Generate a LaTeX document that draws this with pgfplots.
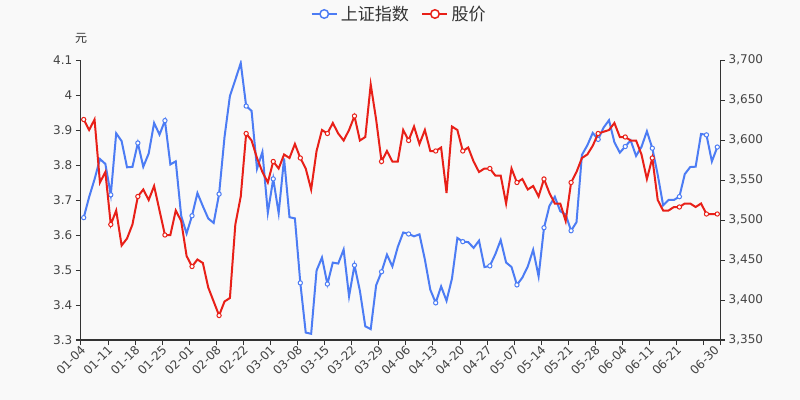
\documentclass[border=0pt]{standalone}
\usepackage{pgfplots}
\usepackage{pgfplotstable}
\pgfplotsset{compat=1.18}
\usepackage{fontspec}
\setmainfont{DejaVu Sans}
\newfontfamily\cjk{Noto Sans CJK SC}
\definecolor{bg}{HTML}{F9F9F9}
\definecolor{sse}{RGB}{76,124,244}
\definecolor{stk}{RGB}{232,32,24}
\definecolor{axc}{HTML}{333333}
\definecolor{txt}{HTML}{444444}

\pgfplotstableread{
i sse
0 3502.96
1 3528.68
2 3550.88
3 3576.20
4 3570.11
5 3531.50
6 3608.34
7 3598.65
8 3565.90
9 3566.38
10 3596.22
11 3566.52
12 3583.09
13 3621.26
14 3606.75
15 3624.24
16 3569.43
17 3573.34
18 3505.18
19 3483.07
20 3505.28
21 3533.68
22 3517.31
23 3501.86
24 3496.33
25 3532.44
26 3603.49
27 3655.09
28 3675.36
29 3696.17
30 3642.44
31 3636.36
32 3564.08
33 3585.05
34 3509.08
35 3551.40
36 3508.59
37 3576.90
38 3503.49
39 3501.99
40 3421.41
41 3359.29
42 3357.74
43 3436.83
44 3453.08
45 3419.95
46 3446.73
47 3445.55
48 3463.07
49 3404.66
50 3443.44
51 3411.51
52 3367.06
53 3363.59
54 3418.33
55 3435.30
56 3456.68
57 3441.91
58 3466.33
59 3484.39
60 3482.50
61 3479.63
62 3482.06
63 3450.68
64 3412.95
65 3396.47
66 3416.99
67 3398.99
68 3426.62
69 3477.55
70 3472.94
71 3472.40
72 3465.11
73 3474.17
74 3441.17
75 3442.61
76 3457.07
77 3474.90
78 3446.86
79 3441.28
80 3418.87
81 3427.99
82 3441.85
83 3462.75
84 3429.54
85 3490.38
86 3517.62
87 3529.01
88 3510.96
89 3506.94
90 3486.56
91 3497.28
92 3581.34
93 3593.36
94 3608.85
95 3600.78
96 3615.48
97 3624.71
98 3597.14
99 3584.22
100 3591.84
101 3599.54
102 3580.11
103 3591.40
104 3610.86
105 3589.75
106 3556.56
107 3518.33
108 3525.10
109 3525.10
110 3529.18
111 3557.41
112 3566.22
113 3566.65
114 3607.56
115 3606.37
116 3573.18
117 3591.20
}\ssedata

\pgfplotstableread{
i price
0 3.93
1 3.90
2 3.93
3 3.75
4 3.78
5 3.63
6 3.67
7 3.57
8 3.59
9 3.63
10 3.71
11 3.73
12 3.70
13 3.74
14 3.67
15 3.60
16 3.60
17 3.67
18 3.64
19 3.54
20 3.51
21 3.53
22 3.52
23 3.45
24 3.41
25 3.37
26 3.41
27 3.42
28 3.63
29 3.71
30 3.89
31 3.87
32 3.82
33 3.78
34 3.75
35 3.81
36 3.79
37 3.83
38 3.82
39 3.86
40 3.82
41 3.79
42 3.73
43 3.84
44 3.90
45 3.89
46 3.92
47 3.89
48 3.87
49 3.90
50 3.94
51 3.87
52 3.88
53 4.03
54 3.93
55 3.81
56 3.84
57 3.81
58 3.81
59 3.90
60 3.87
61 3.91
62 3.86
63 3.90
64 3.84
65 3.84
66 3.85
67 3.72
68 3.91
69 3.90
70 3.84
71 3.85
72 3.81
73 3.78
74 3.79
75 3.79
76 3.77
77 3.77
78 3.69
79 3.79
80 3.75
81 3.76
82 3.73
83 3.74
84 3.71
85 3.76
86 3.72
87 3.69
88 3.69
89 3.64
90 3.75
91 3.78
92 3.82
93 3.83
94 3.855
95 3.89
96 3.895
97 3.90
98 3.92
99 3.88
100 3.88
101 3.87
102 3.87
103 3.83
104 3.76
105 3.82
106 3.70
107 3.67
108 3.67
109 3.68
110 3.68
111 3.69
112 3.69
113 3.68
114 3.69
115 3.66
116 3.66
117 3.66
}\pricedata

\pgfplotsset{
  common/.style={
    at={(0,0)}, anchor=south west, scale only axis,
    width=479.25pt, height=210pt,
    xmin=-0.5, xmax=117.5,
    clip mode=individual,
    /pgf/number format/assume math mode=true,
    major tick length=0pt, minor tick length=3.75pt,
    every tick/.style={axc, line width=0.75pt},
    tick label style={font=\fontsize{9}{10}\selectfont, text=txt},
  },
  nolinearrows/.style={
    axis line style={axc, line width=0.75pt, -},
    every outer x axis line/.append style={-},
    every outer y axis line/.append style={-},
    every inner x axis line/.append style={-},
    every inner y axis line/.append style={-},
    x axis line style={-}, y axis line style={-},
  },
}

\begin{document}
\begin{tikzpicture}[x=0.75pt,y=0.75pt]
\fill[bg] (-81,-60) rectangle (719,340);
\begin{axis}[common,
  axis x line=bottom, axis y line=right, tick align=outside, nolinearrows,
  ymin=3350, ymax=3700,
  ytick={3350,3400,3450,3500,3550,3600,3650,3700},
  minor ytick={3350,3400,3450,3500,3550,3600,3650,3700},
  scaled y ticks=false,
  yticklabel style={/pgf/number format/1000 sep={,}, xshift=3pt},
  xtick={0,5,...,110,117},
  xticklabels={01-04,01-11,01-18,01-25,02-01,02-08,02-22,03-01,03-08,03-15,03-22,03-29,04-06,04-13,04-20,04-27,05-07,05-14,05-21,05-28,06-04,06-11,06-21,06-30},
  minor xtick={-0.5,4.5,...,114.5,117.5},
  xticklabel style={rotate=45, anchor=east, yshift=-4pt, xshift=-1pt},
]
\addplot[sse, line width=1.5pt, mark=*, mark size=1.6pt,
  mark indices={1,6,11,16,21,26,31,36,41,46,51,56,61,66,71,76,81,86,91,96,101,106,111,116,118},
  mark options={fill=white, draw=sse, line width=0.75pt}]
  table[x=i, y=sse] {\ssedata};
\end{axis}
\begin{axis}[common,
  axis x line=none, axis y line=left, tick align=outside, nolinearrows,
  ymin=3.3, ymax=4.1,
  ytick={3.3,3.4,3.5,3.6,3.7,3.8,3.9,4.0,4.1},
  yticklabels={3.3,3.4,3.5,3.6,3.7,3.8,3.9,4,4.1},
  minor ytick={3.3,3.4,3.5,3.6,3.7,3.8,3.9,4.0,4.1},
  yticklabel style={xshift=-3pt},
  legend style={at={(axis description cs:0.4992,1.1643)}, anchor=center,
    draw=none, fill=none, legend columns=-1,
    font=\cjk\fontsize{12.8}{14}\selectfont, text=axc,
    nodes={inner sep=2.5pt},
    /tikz/every even column/.append style={column sep=7pt}},
  legend image code/.code={
    \draw[#1, line width=1.1pt] (0pt,0pt) -- (18.75pt,0pt);
    \draw[#1, line width=1.1pt, fill=white] (9.375pt,0pt) circle (3.2pt);},
]
\addlegendimage{sse}
\addlegendentry{上证指数}
\addlegendimage{stk}
\addlegendentry{股价}
\addplot[stk, line width=1.5pt, mark=*, mark size=1.6pt, forget plot,
  mark indices={1,6,11,16,21,26,31,36,41,46,51,56,61,66,71,76,81,86,91,96,101,106,111,116,118},
  mark options={fill=white, draw=stk, line width=0.75pt}]
  table[x=i, y=price] {\pricedata};
\node[font=\cjk\fontsize{9}{10}\selectfont, text=axc] at (axis description cs:0,1) [yshift=16.5pt] {元};
\end{axis}
\pgfresetboundingbox
\useasboundingbox (-81,-60) rectangle (719,340);
\end{tikzpicture}
\end{document}
